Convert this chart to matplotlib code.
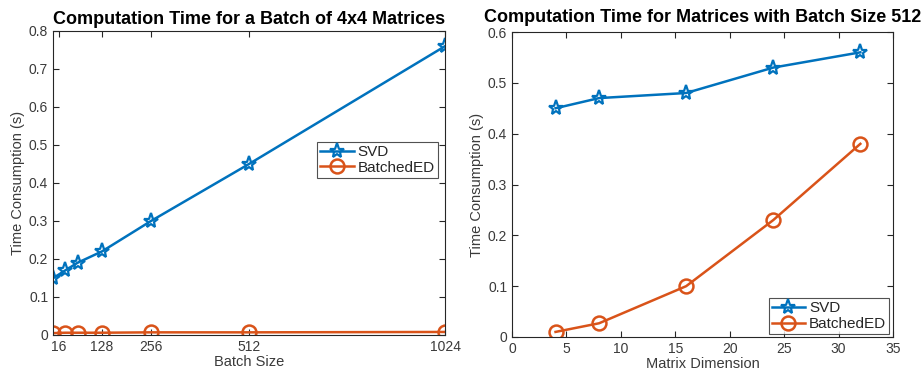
import matplotlib
matplotlib.use("Agg")
import matplotlib.pyplot as plt

plt.rcParams['font.family'] = ['Liberation Sans', 'DejaVu Sans']

# Left chart data
batch_sizes = [1, 32, 64, 128, 256, 512, 1024]
svd_batch = [0.15, 0.17, 0.19, 0.22, 0.30, 0.45, 0.76]
bed_batch = [0.005, 0.006, 0.006, 0.006, 0.007, 0.007, 0.008]
batch_ticks = [16, 128, 256, 512, 1024]

# Right chart data
mat_dims = [4, 8, 16, 24, 32]
svd_dim = [0.45, 0.47, 0.48, 0.53, 0.56]
bed_dim = [0.01, 0.027, 0.10, 0.23, 0.38]

BLUE = '#0072BD'
ORANGE = '#D95319'
TXT = '#3a3a3a'

fig = plt.figure(figsize=(9.21, 3.8), dpi=100)
ax1 = fig.add_axes([53/921, 1-335/380, (445-53)/921, (335-31)/380])
ax2 = fig.add_axes([512/921, 1-337/380, (893-512)/921, (337-32)/380])

def style(ax):
    for s in ax.spines.values():
        s.set_color('#262626')
        s.set_linewidth(0.8)
    ax.tick_params(direction='in', top=True, right=True, length=4,
                   labelsize=10, colors='#262626', labelcolor=TXT, width=0.8)

def legend(ax, **kw):
    leg = ax.legend(fontsize=11, frameon=True, fancybox=False, edgecolor='#262626',
                    borderpad=0.2, labelspacing=0.1, handlelength=2.2,
                    handletextpad=0.25, borderaxespad=0, **kw)
    leg.get_frame().set_linewidth(0.8)
    for t in leg.get_texts():
        t.set_color('#262626')
    return leg

for ax, xs, s, b in ((ax1, batch_sizes, svd_batch, bed_batch),
                     (ax2, mat_dims, svd_dim, bed_dim)):
    ax.plot(xs, s, '-*', color=BLUE, lw=1.8, ms=11,
            mfc='none', mew=1.6, label='SVD')
    ax.plot(xs, b, '-o', color=ORANGE, lw=1.8, ms=10,
            mfc='none', mew=1.8, label='BatchedED')

ax1.set_xlim(0, 1024)
ax1.set_ylim(0, 0.8)
ax1.set_xticks(batch_ticks)
ax1.set_yticks([0, 0.1, 0.2, 0.3, 0.4, 0.5, 0.6, 0.7, 0.8])
ax1.set_yticklabels(['0', '0.1', '0.2', '0.3', '0.4', '0.5', '0.6', '0.7', '0.8'])
ax1.set_xlabel('Batch Size', fontsize=10.5, color=TXT, labelpad=1)
ax1.set_ylabel('Time Consumption (s)', fontsize=10.5, color=TXT, labelpad=3)
ax1.set_title('Computation Time for a Batch of 4x4 Matrices', fontsize=13,
              fontweight='bold', pad=5)
style(ax1)
legend(ax1, loc='upper right', bbox_to_anchor=(0.982, 0.635))

ax2.set_xlim(0, 35)
ax2.set_ylim(0, 0.6)
ax2.set_xticks([0, 5, 10, 15, 20, 25, 30, 35])
ax2.set_yticks([0, 0.1, 0.2, 0.3, 0.4, 0.5, 0.6])
ax2.set_yticklabels(['0', '0.1', '0.2', '0.3', '0.4', '0.5', '0.6'])
ax2.set_xlabel('Matrix Dimension', fontsize=10.5, color=TXT, labelpad=1)
ax2.set_ylabel('Time Consumption (s)', fontsize=10.5, color=TXT, labelpad=3)
ax2.set_title('Computation Time for Matrices with Batch Size 512', fontsize=13,
              fontweight='bold', pad=7)
style(ax2)
legend(ax2, loc='lower right', bbox_to_anchor=(0.99, 0.01))

fig.savefig('out.png', dpi=100)
